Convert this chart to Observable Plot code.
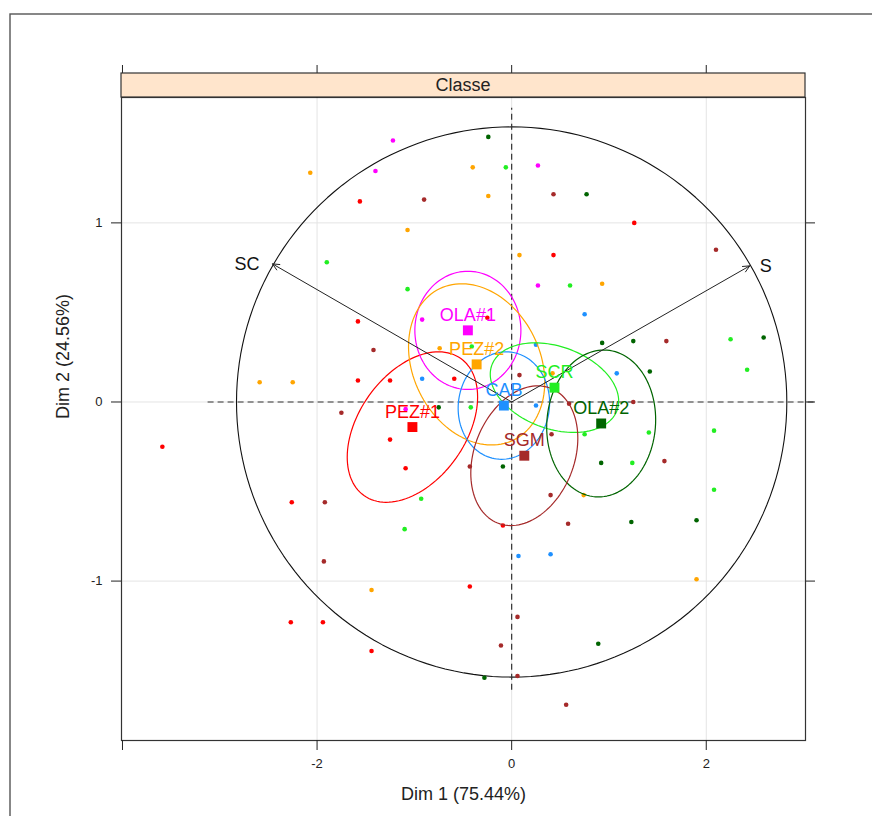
<!DOCTYPE html>
<html><head><meta charset="utf-8">
<script src="https://cdn.jsdelivr.net/npm/d3@7"></script>
<script src="https://cdn.jsdelivr.net/npm/@observablehq/plot@0.6"></script>
<style>html,body{margin:0;padding:0;background:#fff;} #chart{width:872px;height:816px;overflow:hidden;}</style>
</head><body><div id="chart"></div><script>
// ---- Data ----
const classNames  = ["PEZ#1","OLA#1","PEZ#2","CAB","SCR","OLA#2","SGM"];
const classColors = ["#FF0000","#FF00FF","#FFA500","#1E90FF","#22EE22","#006400","#A52A2A"];
const classX  = [-1.02,-0.45,-0.36,-0.08, 0.44, 0.92, 0.13];
const classY  = [-0.14, 0.40, 0.21,-0.02, 0.08,-0.12,-0.30];
// ellipse half-extents (x, y) and correlation
const ellSx   = [0.67, 0.545, 0.70, 0.47, 0.66, 0.56, 0.55];
const ellSy   = [0.42, 0.33, 0.45, 0.30, 0.25, 0.41, 0.39];
const ellR    = [0.40, 0.00,-0.22, 0.05,-0.30, 0.05, 0.25];

const pointX = [-1.22,-0.24,-2.07,-1.40,-0.40,-0.06,0.27,-1.56,-0.90,-0.24,0.43,0.77,1.26,-1.07,0.43,0.08,-1.90,2.10,0.27,0.60,0.93,0.75,-1.07,-1.58,-0.92,-0.25,-1.42,-0.74,-0.41,-1.58,-1.25,-0.92,-0.59,-2.59,-2.25,0.08,0.25,0.93,1.25,1.59,2.25,2.59,0.42,1.08,1.42,2.42,0.25,0.59,1.25,-3.59,-1.75,-1.09,-0.75,-0.42,-1.25,-1.09,-0.93,-1.10,-2.26,-1.92,-1.93,-1.44,-0.43,-2.27,-1.94,-1.44,-0.28,0.06,-0.11,0.06,-0.09,-0.43,-0.09,0.41,0.75,1.41,2.08,0.92,1.24,1.57,2.08,0.40,0.74,1.90,1.23,0.58,0.07,0.40,1.90,0.89,0.56];
const pointY = [1.46,1.48,1.28,1.29,1.31,1.31,1.32,1.12,1.13,1.15,1.16,1.16,1.00,0.96,0.82,0.82,0.78,0.85,0.65,0.65,0.66,0.49,0.63,0.45,0.46,0.47,0.29,0.30,0.31,0.12,0.12,0.13,0.13,0.11,0.11,0.15,0.32,0.33,0.34,0.34,0.35,0.36,0.16,0.16,0.17,0.18,-0.02,-0.01,0.00,-0.25,-0.06,-0.04,-0.03,-0.03,-0.21,-0.37,-0.54,-0.71,-0.56,-0.56,-0.89,-1.05,-1.03,-1.23,-1.23,-1.39,-1.54,-1.53,-1.36,-1.20,-0.69,-0.36,-0.36,-0.18,-0.18,-0.17,-0.16,-0.34,-0.34,-0.33,-0.49,-0.52,-0.52,-0.66,-0.67,-0.68,-0.86,-0.85,-0.99,-1.35,-1.69];
const pointClass = ["OLA#1","OLA#2","PEZ#2","OLA#1","PEZ#2","SCR","OLA#1","PEZ#1","SGM","PEZ#2","SGM","OLA#2","PEZ#1","PEZ#2","PEZ#1","PEZ#2","SCR","SGM","OLA#1","SCR","PEZ#2","CAB","SCR","PEZ#1","OLA#1","PEZ#1","SGM","PEZ#2","SCR","PEZ#1","PEZ#1","CAB","PEZ#1","PEZ#2","PEZ#2","SGM","CAB","OLA#2","OLA#2","SGM","SCR","OLA#2","PEZ#2","CAB","OLA#2","SCR","CAB","SGM","SGM","PEZ#1","SGM","OLA#1","OLA#2","SCR","PEZ#1","PEZ#1","SCR","SCR","PEZ#1","SGM","SGM","PEZ#2","PEZ#1","PEZ#1","PEZ#1","PEZ#1","OLA#2","SGM","SGM","SGM","PEZ#1","SGM","OLA#2","SGM","SCR","SCR","SCR","OLA#2","SCR","SGM","SCR","SGM","PEZ#2","OLA#2","OLA#2","SGM","CAB","CAB","PEZ#2","OLA#2","SGM"];

const varNames = ["SC","S"];
const varX = [-2.458, 2.447];
const varY = [0.771, 0.760];
const circleRx = 2.828, circleRy = 1.536;   // correlation circle as read (data units)

const xTicks = [-4,-2,0,2];
const xTickLabels = ["","-2","0","2"];
const yTicks = [-1,0,1];
const yTickLabels = ["-1","0","1"];
const xTitle = "Dim 1 (75.44%)";
const yTitle = "Dim 2 (24.56%)";
const stripTitle = "Classe";

// ---- Build tables ----
const points = pointX.map((x,i)=>({x, y:pointY[i], cls:pointClass[i]}));
const classes = classNames.map((c,i)=>({cls:c, x:classX[i], y:classY[i]}));
const ellPts = [];
classNames.forEach((c,i)=>{
  const r = ellR[i], q = Math.sqrt(1-r*r);
  for (let k=0;k<=120;k++){
    const a = 2*Math.PI*k/120;
    ellPts.push({cls:c, x: classX[i]+ellSx[i]*Math.cos(a), y: classY[i]+ellSy[i]*(r*Math.cos(a)+q*Math.sin(a))});
  }
});
const circlePts = d3.range(0,361,2).map(a=>({x:circleRx*Math.cos(a*Math.PI/180), y:circleRy*Math.sin(a*Math.PI/180)}));
const vars = varNames.map((n,i)=>({name:n, x:varX[i], y:varY[i]}));
const xTickRows = xTicks.map((v,i)=>({v, label:xTickLabels[i]}));
const yTickRows = yTicks.map((v,i)=>({v, label:yTickLabels[i]}));

const W=872, H=816, mL=121, mR=67, mT=97, mB=76;
const font = "'Liberation Sans', Arial, Helvetica, sans-serif";

const chart = Plot.plot({
  width:W, height:H, marginLeft:mL, marginRight:mR, marginTop:mT, marginBottom:mB,
  style:{fontFamily:font, fontSize:"14px", background:"#fff", color:"#222"},
  x:{domain:[-4.01,3.02], label:null},
  y:{domain:[-1.89,1.70], label:null},
  color:{domain:classNames, range:classColors},
  marks:[
    Plot.gridX([-2,0,2], {stroke:"#e4e4e4", strokeOpacity:1}),
    Plot.gridY(yTicks, {stroke:"#e4e4e4", strokeOpacity:1}),
    Plot.line(circlePts, {x:"x", y:"y", stroke:"#111", strokeWidth:1.1}),
    Plot.ruleY([0], {x1:-3.12, x2:3.12, stroke:"#333", strokeWidth:1.2, strokeDasharray:"6,4"}),
    Plot.ruleX([0], {y1:-1.61, y2:1.64, stroke:"#333", strokeWidth:1.2, strokeDasharray:"6,4"}),
    Plot.dot(points, {x:"x", y:"y", r:2.3, fill:"cls", stroke:null}),
    Plot.line(ellPts, {x:"x", y:"y", z:"cls", stroke:"cls", strokeWidth:1.2}),
    Plot.arrow(vars, {x1:d=>0, y1:d=>0, x2:"x", y2:"y", stroke:"#222", strokeWidth:1, headLength:11, headAngle:50}),
    Plot.text(vars, {filter:d=>d.x<0, x:"x", y:"y", text:"name", textAnchor:"end", dx:-13, fontSize:18, fill:"#111"}),
    Plot.text(vars, {filter:d=>d.x>0, x:"x", y:"y", text:"name", textAnchor:"start", dx:10, fontSize:18, fill:"#111"}),
    Plot.dot(classes, {x:"x", y:"y", symbol:"square", r:5.6, fill:"cls", stroke:null}),
    Plot.text(classes, {x:"x", y:"y", text:"cls", dy:-15, fill:"cls", fontSize:18}),
    Plot.frame({stroke:"#333", strokeWidth:1.2}),
    Plot.axisX({anchor:"bottom", ticks:xTicks, tickSize:10, tickFormat:()=>"", label:null}),
    Plot.axisX({anchor:"top", ticks:xTicks, tickSize:33, tickFormat:()=>"", label:null}),
    Plot.axisY({anchor:"left", ticks:yTicks, tickSize:10, tickFormat:()=>"", label:null}),
    Plot.axisY({anchor:"right", ticks:yTicks, tickSize:9, tickFormat:()=>"", label:null}),
    Plot.text(xTickRows, {x:"v", text:"label", frameAnchor:"bottom", dy:27, fontSize:13, fill:"#222"}),
    Plot.text(yTickRows, {y:"v", text:"label", frameAnchor:"left", dx:-19, textAnchor:"end", fontSize:13, fill:"#222"}),
    Plot.text([xTitle], {frameAnchor:"bottom", dy:59, text:d=>d, fontSize:18, fill:"#222"}),
    Plot.text([yTitle], {frameAnchor:"left", dx:-58, rotate:-90, text:d=>d, fontSize:18, fill:"#222"})
  ]
});
document.getElementById("chart").appendChild(chart);

const svg = d3.select(chart);
// lattice-style strip and outer figure border
svg.append("rect").attr("x",mL).attr("y",mT-24).attr("width",W-mL-mR).attr("height",24)
  .attr("fill","#ffe5cc").attr("stroke","#333").attr("stroke-width",1.2);
svg.append("text").attr("x",(mL+W-mR)/2).attr("y",mT-12).attr("text-anchor","middle")
  .attr("dominant-baseline","central").attr("font-size",18).attr("fill","#222").text(stripTitle);
svg.append("rect").attr("x",10).attr("y",14).attr("width",W).attr("height",H)
  .attr("fill","none").attr("stroke","#555").attr("stroke-width",1.4);
</script></body></html>
